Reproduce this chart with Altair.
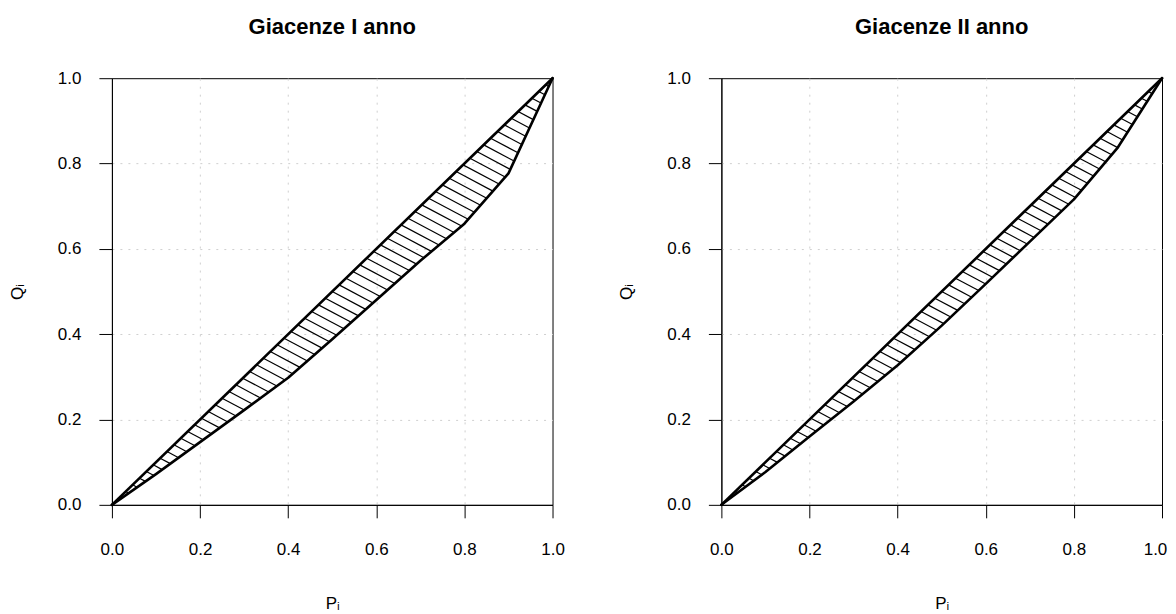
import altair as alt
import numpy as np
import pandas as pd

# ---- data ----
P = [0.0, 0.1, 0.2, 0.3, 0.4, 0.5, 0.6, 0.7, 0.8, 0.9, 1.0]
Q_I = [0.0, 0.072, 0.147, 0.222, 0.298, 0.388, 0.480, 0.572, 0.659, 0.777, 1.0]
Q_II = [0.0, 0.077, 0.160, 0.242, 0.327, 0.420, 0.518, 0.617, 0.716, 0.838, 1.0]
TITLES = ["Giacenze I anno", "Giacenze II anno"]
TICKS = [0.0, 0.2, 0.4, 0.6, 0.8, 1.0]
X_TITLE = "P\u1d62"
Y_TITLE = "Q\u1d62"

# hatching style (slope in data units, number of lines)
HATCH_K = 0.55
HATCH_N = 64
FONT = "Liberation Sans"
W, H = 441, 427


def hatch_frame(p, q):
    p = np.asarray(p, float)
    q = np.asarray(q, float)
    c = np.arange(1, HATCH_N) * (1 + HATCH_K) / HATCH_N
    pu = c / (1 + HATCH_K)                      # intersection with the equality line
    pl = np.interp(c, q + HATCH_K * p, p)       # intersection with the Lorenz curve
    ql = np.interp(pl, p, q)
    return pd.DataFrame({"P": pu, "Q": pu, "P2": pl, "Q2": ql})


grid_op = {"condition": {"test": "datum.value <= 0 || datum.value >= 1", "value": 0}, "value": 1}

common_axis = dict(
    values=TICKS, format=".1f", tickSize=13, labelFontSize=17, titleFontSize=17,
    titleFontWeight="normal", grid=True, gridColor="#cfcfcf", gridDash=[2, 6],
    gridOpacity=grid_op, domainColor="black", tickColor="black", labelColor="black",
    titleColor="black", labelFont=FONT, titleFont=FONT, labelFlush=False,
    labelOverlap=False,
)


def make_xaxis(last_shift):
    return alt.Axis(
        title=X_TITLE, titleX=W / 2, titleY=104, titleBaseline="alphabetic",
        titleAngle=0, titleAlign="center", labelPadding=24,
        labelOffset={"condition": {"test": "datum.value >= 1", "value": last_shift}, "value": 0},
        **common_axis)


yaxis = alt.Axis(title=Y_TITLE, titleX=-94.5, titleY=H / 2, titleBaseline="middle",
                 titleAngle=270, titleAlign="center", labelPadding=18, labelAngle=0,
                 **common_axis)

xs = alt.Scale(domain=[0, 1], nice=False, zero=False)
ys = alt.Scale(domain=[0, 1], nice=False, zero=False)


def panel(q, title, last_shift):
    x = alt.X("P:Q", scale=xs, axis=make_xaxis(last_shift))
    y = alt.Y("Q:Q", scale=ys, axis=yaxis)
    cur = pd.DataFrame({"P": P, "Q": q})
    diag = pd.DataFrame({"P": [P[0], P[-1]], "Q": [P[0], P[-1]]})
    hatch = alt.Chart(hatch_frame(P, q)).mark_rule(color="black", strokeWidth=1.2).encode(
        x=x, y=y, x2="P2:Q", y2="Q2:Q")
    dline = alt.Chart(diag).mark_line(color="black", strokeWidth=2.6, strokeCap="round",
                                      strokeJoin="round").encode(x=x, y=y)
    lor = alt.Chart(cur).mark_line(color="black", strokeWidth=2.6, strokeCap="round",
                                   strokeJoin="round").encode(x=x, y=y, order="P:Q")
    return alt.layer(hatch, dline, lor).properties(
        width=W, height=H,
        title=alt.TitleParams(title, fontSize=22, fontWeight="bold", font=FONT, offset=13,
                              baseline="alphabetic", anchor="middle", color="black"),
    )


chart = alt.hconcat(
    panel(Q_I, TITLES[0], 0), panel(Q_II, TITLES[1], -7), spacing=169, bounds="flush"
).properties(
    padding={"left": 0, "top": 7, "right": 0, "bottom": 0}
).configure(
    font=FONT,
    view=alt.ViewConfig(stroke="black", strokeWidth=1),
)

chart.save("out.html", embed_options={"renderer": "svg", "actions": False})
